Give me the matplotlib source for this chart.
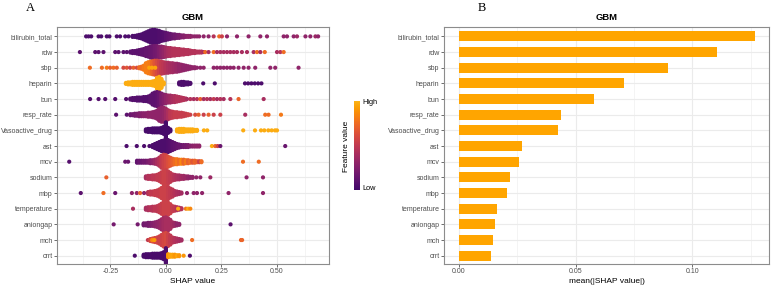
import numpy as np
import matplotlib
matplotlib.use("Agg")
import matplotlib.pyplot as plt
from matplotlib.colors import ListedColormap
from matplotlib.ticker import FixedLocator

features = ["bilirubin_total", "rdw", "sbp", "heparin", "bun", "resp_rate",
            "Vasoactive_drug", "ast", "mcv", "sodium", "mbp", "temperature",
            "aniongap", "mch", "crrt"]

mean_abs_shap = [0.1268, 0.1107, 0.0897, 0.0706, 0.0578, 0.0437, 0.0426,
                 0.0269, 0.0257, 0.0217, 0.0204, 0.0164, 0.0154, 0.0144, 0.0137]

# ---- beeswarm data: SHAP value (binned), number of points, feature value (0..1)
bilirubin_total_shap = [-0.359, -0.348, -0.336, -0.303, -0.291, -0.266, -0.254, -0.221, -0.206, -0.183, -0.168,
                        -0.15, -0.14, -0.13, -0.12, -0.11, -0.10, -0.09, -0.08, -0.07, -0.06, -0.05, -0.04, -0.03, -0.02, -0.01,
                        0.00, 0.01, 0.02, 0.03, 0.04, 0.05, 0.06, 0.07, 0.08, 0.09, 0.10, 0.11, 0.12, 0.13, 0.14, 0.15,
                        0.17, 0.192, 0.215, 0.24, 0.252, 0.275, 0.32, 0.372, 0.425, 0.455, 0.53, 0.545, 0.575, 0.59,
                        0.628, 0.65, 0.673, 0.685]
bilirubin_total_n = [1, 1, 1, 1, 1, 1, 1, 1, 1, 1, 1,
                     2, 2, 3, 4, 5, 7, 9, 11, 13, 14, 14, 13, 12, 10, 9,
                     8, 7, 6, 5, 5, 4, 4, 3, 3, 2, 2, 2, 1, 1, 1, 1,
                     1, 1, 1, 1, 1, 1, 1, 1, 1, 1, 1, 1, 1, 1,
                     1, 1, 1, 1]
bilirubin_total_fv = [0.05, 0.05, 0.05, 0.05, 0.05, 0.05, 0.05, 0.05, 0.05, 0.05, 0.05,
                      0.05, 0.05, 0.05, 0.05, 0.05, 0.05, 0.05, 0.05, 0.05, 0.05, 0.05, 0.05, 0.06, 0.07, 0.08,
                      0.10, 0.12, 0.14, 0.16, 0.18, 0.20, 0.22, 0.24, 0.26, 0.28, 0.30, 0.30, 0.30, 0.30, 0.30, 0.30,
                      0.30, 0.30, 0.45, 0.75, 0.55, 0.30, 0.30, 0.30, 0.30, 0.30, 0.30, 0.30, 0.30, 0.35,
                      0.30, 0.30, 0.35, 0.30]

rdw_shap = [-0.387, -0.318, -0.303, -0.281, -0.228, -0.213, -0.191, -0.176,
            -0.16, -0.15, -0.14, -0.13, -0.12, -0.11, -0.10, -0.09, -0.08, -0.07, -0.06, -0.05, -0.04, -0.03, -0.02, -0.01,
            0.00, 0.01, 0.02, 0.03, 0.04, 0.05, 0.06, 0.07, 0.08, 0.09, 0.10, 0.11, 0.12, 0.13, 0.14, 0.15, 0.16,
            0.17, 0.177, 0.192, 0.215, 0.23, 0.245, 0.26, 0.275, 0.29, 0.305, 0.32, 0.342, 0.365, 0.395, 0.41,
            0.425, 0.445, 0.50, 0.515, 0.53]
rdw_n = [1, 1, 1, 1, 1, 1, 1, 1,
         2, 3, 3, 4, 5, 6, 7, 9, 10, 12, 13, 13, 13, 12, 12, 11,
         10, 9, 9, 8, 8, 7, 7, 6, 6, 5, 5, 4, 3, 3, 2, 2, 2,
         1, 1, 1, 1, 1, 1, 1, 1, 1, 1, 1, 1, 1, 1, 1,
         1, 1, 1, 1, 1]
rdw_fv = [0.10, 0.10, 0.10, 0.10, 0.10, 0.10, 0.10, 0.10,
          0.10, 0.10, 0.10, 0.10, 0.10, 0.12, 0.12, 0.14, 0.14, 0.15, 0.16, 0.18, 0.20, 0.24, 0.28, 0.32,
          0.36, 0.40, 0.42, 0.44, 0.45, 0.45, 0.45, 0.45, 0.45, 0.45, 0.45, 0.45, 0.45, 0.45, 0.45, 0.45, 0.45,
          0.40, 0.75, 0.40, 0.75, 0.40, 0.40, 0.40, 0.40, 0.40, 0.40, 0.40, 0.40, 0.40, 0.40, 0.75,
          0.40, 0.75, 0.40, 0.45, 0.75]

sbp_shap = [-0.342, -0.288, -0.266, -0.251, -0.236, -0.221, -0.191, -0.176, -0.161, -0.146, -0.131,
            -0.12, -0.11, -0.10, -0.09, -0.08, -0.07, -0.06, -0.05, -0.04, -0.03, -0.02, -0.01,
            0.00, 0.01, 0.02, 0.03, 0.04, 0.05, 0.06, 0.07, 0.08, 0.09, 0.10, 0.11, 0.12, 0.13,
            -0.075, -0.062, -0.048,
            0.14, 0.155, 0.17, 0.215, 0.23, 0.245, 0.26, 0.275, 0.29, 0.305, 0.327, 0.35, 0.372, 0.402,
            0.47, 0.492, 0.597]
sbp_n = [1, 1, 1, 1, 1, 1, 1, 1, 1, 1, 1,
         2, 3, 5, 10, 12, 13, 14, 15, 15, 14, 13, 12,
         11, 11, 10, 10, 9, 9, 8, 7, 6, 5, 4, 3, 2, 2,
         1, 1, 1,
         1, 1, 1, 1, 1, 1, 1, 1, 1, 1, 1, 1, 1, 1,
         1, 1, 1]
sbp_fv = [0.75, 0.75, 0.80, 0.70, 0.75, 0.70, 0.60, 0.65, 0.55, 0.70, 0.60,
          0.75, 0.75, 0.80, 0.82, 0.82, 0.80, 0.72, 0.65, 0.60, 0.55, 0.50, 0.48,
          0.45, 0.42, 0.40, 0.38, 0.36, 0.34, 0.32, 0.32, 0.30, 0.30, 0.30, 0.30, 0.30, 0.30,
          0.95, 0.95, 0.95,
          0.30, 0.30, 0.30, 0.30, 0.30, 0.30, 0.30, 0.30, 0.30, 0.30, 0.30, 0.30, 0.30, 0.30,
          0.30, 0.30, 0.30]

heparin_shap = [-0.18, -0.17, -0.16, -0.15, -0.14, -0.13, -0.12, -0.11, -0.10, -0.09, -0.08, -0.07,
                -0.06, -0.05, -0.04, -0.03, -0.02, -0.01,
                0.06, 0.07, 0.08, 0.09, 0.10, 0.11,
                0.168, 0.22, 0.356, 0.37, 0.385, 0.40, 0.415, 0.43]
heparin_n = [2, 3, 3, 4, 4, 4, 4, 4, 4, 4, 4, 4,
             5, 6, 12, 14, 10, 3,
             3, 4, 4, 3, 3, 2,
             1, 1, 1, 1, 1, 1, 1, 1]
heparin_fv = [0.97, 0.97, 0.97, 0.97, 0.97, 0.97, 0.97, 0.97, 0.97, 0.97, 0.97, 0.97,
              0.97, 0.97, 0.97, 0.97, 0.97, 0.97,
              0.05, 0.05, 0.05, 0.05, 0.05, 0.05,
              0.05, 0.05, 0.05, 0.05, 0.05, 0.05, 0.05, 0.05]

bun_shap = [-0.341, -0.303, -0.273, -0.228, -0.179,
            -0.16, -0.15, -0.14, -0.13, -0.12, -0.11, -0.10, -0.09, -0.08,
            -0.07, -0.06, -0.05, -0.04, -0.03, -0.02, -0.01, 0.00, 0.01, 0.02, 0.03, 0.04, 0.05, 0.06, 0.07, 0.08, 0.09,
            0.095, 0.11, 0.125, 0.14, 0.155, 0.17, 0.185, 0.20, 0.215, 0.23, 0.245, 0.26, 0.29, 0.327, 0.44]
bun_n = [1, 1, 1, 1, 1,
         2, 3, 3, 4, 4, 4, 5, 5, 6,
         8, 12, 14, 15, 14, 12, 10, 9, 8, 8, 7, 7, 6, 5, 4, 3, 2,
         1, 1, 1, 1, 1, 1, 1, 1, 1, 1, 1, 1, 1, 1, 1]
bun_fv = [0.08, 0.08, 0.08, 0.08, 0.08,
          0.08, 0.08, 0.08, 0.08, 0.08, 0.08, 0.08, 0.08, 0.08,
          0.10, 0.10, 0.10, 0.12, 0.15, 0.22, 0.26, 0.30, 0.33, 0.36, 0.40, 0.42, 0.44, 0.44, 0.45, 0.45, 0.45,
          0.40, 0.45, 0.40, 0.45, 0.70, 0.40, 0.45, 0.40, 0.50, 0.40, 0.45, 0.40, 0.45, 0.72, 0.40]

resp_rate_shap = [-0.224, -0.176,
                  -0.16, -0.15, -0.14, -0.13, -0.12, -0.11, -0.10, -0.09, -0.08, -0.07, -0.06, -0.05, -0.04,
                  -0.03, -0.02, -0.01, 0.00, 0.01,
                  0.02, 0.03, 0.04, 0.05, 0.06, 0.07, 0.08, 0.09, 0.10,
                  0.11, 0.132, 0.147, 0.17, 0.192, 0.215, 0.245, 0.357, 0.447, 0.462, 0.518]
resp_rate_n = [1, 1,
               2, 2, 3, 3, 4, 4, 4, 4, 5, 5, 6, 7, 9,
               13, 15, 15, 13, 10,
               8, 7, 6, 6, 5, 5, 4, 3, 2,
               1, 1, 1, 1, 1, 1, 1, 1, 1, 1, 1]
resp_rate_fv = [0.10, 0.10,
                0.15, 0.18, 0.20, 0.22, 0.24, 0.26, 0.28, 0.28, 0.30, 0.30, 0.30, 0.30, 0.30,
                0.30, 0.30, 0.32, 0.36, 0.42,
                0.48, 0.50, 0.52, 0.52, 0.52, 0.52, 0.52, 0.52, 0.55,
                0.55, 0.60, 0.70, 0.55, 0.70, 0.55, 0.55, 0.40, 0.75, 0.75, 0.80]

Vasoactive_drug_shap = [-0.09, -0.08, -0.07, -0.06, -0.05, -0.04, -0.03, -0.02, -0.01, 0.00, 0.01, 0.02,
                        0.05, 0.06, 0.07, 0.08, 0.09, 0.10, 0.11, 0.12, 0.13, 0.14,
                        0.171, 0.186, 0.348, 0.401, 0.428, 0.443, 0.461, 0.476, 0.491, 0.50]
Vasoactive_drug_n = [3, 4, 4, 5, 5, 5, 5, 6, 8, 17, 6, 3,
                     3, 4, 4, 4, 3, 3, 3, 3, 2, 2,
                     1, 1, 1, 1, 1, 1, 1, 1, 1, 1]
Vasoactive_drug_fv = [0.02, 0.02, 0.02, 0.02, 0.02, 0.02, 0.02, 0.02, 0.02, 0.02, 0.02, 0.02,
                      0.97, 0.97, 0.97, 0.97, 0.97, 0.97, 0.97, 0.97, 0.97, 0.97,
                      0.97, 0.97, 0.97, 0.97, 0.97, 0.97, 0.97, 0.97, 0.97, 0.97]

ast_shap = [-0.177, -0.131, -0.098, -0.074,
            -0.06, -0.05, -0.04, -0.03, -0.02, -0.01, 0.00, 0.01, 0.02, 0.03, 0.04, 0.05, 0.06, 0.07, 0.08,
            0.09, 0.10, 0.11, 0.12, 0.13, 0.14, 0.15,
            0.207, 0.222, 0.233, 0.245, 0.537]
ast_n = [1, 1, 1, 1,
         3, 5, 7, 9, 11, 12, 13, 13, 11, 9, 7, 5, 4, 3, 3,
         3, 3, 2, 2, 2, 2, 2,
         1, 1, 1, 1, 1]
ast_fv = [0.05, 0.05, 0.05, 0.05,
          0.05, 0.05, 0.05, 0.05, 0.05, 0.05, 0.05, 0.06, 0.08, 0.10, 0.12, 0.14, 0.15, 0.16, 0.18,
          0.20, 0.22, 0.25, 0.28, 0.30, 0.30, 0.30,
          0.97, 0.75, 0.55, 0.15, 0.15]

mcv_shap = [-0.435, -0.183, -0.17,
            -0.13, -0.12, -0.11, -0.10, -0.09, -0.08, -0.07, -0.06, -0.05, -0.04,
            -0.03, -0.02, -0.01, 0.00, 0.01, 0.02,
            0.03, 0.04, 0.05, 0.06, 0.07, 0.08, 0.09, 0.10, 0.11, 0.12, 0.13, 0.14, 0.15, 0.16,
            0.347, 0.418]
mcv_n = [1, 1, 1,
         3, 3, 3, 3, 3, 3, 4, 4, 5, 6,
         9, 13, 15, 14, 11, 9,
         7, 6, 6, 5, 5, 5, 4, 4, 3, 3, 3, 2, 2, 2,
         1, 1]
mcv_fv = [0.08, 0.15, 0.15,
          0.12, 0.15, 0.15, 0.18, 0.18, 0.22, 0.25, 0.30, 0.35, 0.40,
          0.45, 0.50, 0.55, 0.58, 0.62, 0.66,
          0.70, 0.75, 0.80, 0.75, 0.85, 0.72, 0.80, 0.70, 0.75, 0.65, 0.72, 0.70, 0.55, 0.75,
          0.75, 0.75]

sodium_shap = [-0.268,
               -0.09, -0.08, -0.07, -0.06, -0.05, -0.04, -0.03,
               -0.02, -0.01, 0.00, 0.01, 0.02,
               0.03, 0.04, 0.05, 0.06, 0.07, 0.08, 0.09, 0.10, 0.11, 0.12,
               0.137, 0.155, 0.20, 0.363, 0.437]
sodium_n = [1,
            3, 4, 4, 5, 5, 6, 8,
            11, 14, 15, 13, 10,
            7, 6, 5, 5, 4, 4, 3, 3, 2, 2,
            1, 1, 1, 1, 1]
sodium_fv = [0.70,
             0.40, 0.45, 0.45, 0.48, 0.48, 0.50, 0.50,
             0.52, 0.55, 0.55, 0.52, 0.50,
             0.48, 0.45, 0.42, 0.40, 0.38, 0.36, 0.35, 0.32, 0.30, 0.30,
             0.30, 0.30, 0.35, 0.30, 0.30]

mbp_shap = [-0.383, -0.281, -0.228, -0.153, -0.131, -0.116, -0.098,
            -0.08, -0.07, -0.06, -0.05, -0.04, -0.03,
            -0.02, -0.01, 0.00, 0.01, 0.02, 0.03,
            0.04, 0.05, 0.06, 0.07,
            0.095, 0.125, 0.14, 0.163, 0.282, 0.437]
mbp_n = [1, 1, 1, 1, 1, 1, 1,
         3, 4, 4, 5, 6, 8,
         11, 14, 15, 13, 10, 8,
         5, 4, 3, 2,
         1, 1, 1, 1, 1, 1]
mbp_fv = [0.10, 0.75, 0.15, 0.30, 0.30, 0.70, 0.30,
          0.45, 0.50, 0.50, 0.52, 0.52, 0.52,
          0.55, 0.55, 0.55, 0.52, 0.50, 0.48,
          0.45, 0.42, 0.40, 0.38,
          0.30, 0.30, 0.30, 0.30, 0.30, 0.30]

temperature_shap = [-0.148,
                    -0.09, -0.08, -0.07, -0.06, -0.05, -0.04, -0.03,
                    -0.02, -0.01, 0.00, 0.01, 0.02,
                    0.03, 0.04, 0.05, 0.06, 0.07,
                    0.055, 0.09, 0.10, 0.11]
temperature_n = [1,
                 3, 4, 4, 5, 5, 6, 8,
                 11, 14, 15, 13, 10,
                 6, 5, 4, 3, 2,
                 1, 1, 1, 1]
temperature_fv = [0.40,
                  0.40, 0.42, 0.45, 0.45, 0.48, 0.48, 0.50,
                  0.52, 0.55, 0.55, 0.55, 0.55,
                  0.52, 0.50, 0.45, 0.42, 0.45,
                  0.97, 0.80, 0.97, 0.85]

aniongap_shap = [-0.235, -0.127,
                 -0.10, -0.09, -0.08, -0.07, -0.06, -0.05, -0.04, -0.03,
                 -0.02, -0.01, 0.00, 0.01, 0.02,
                 0.03, 0.04, 0.05, 0.06,
                 0.291]
aniongap_n = [1, 1,
              3, 3, 4, 4, 4, 5, 6, 8,
              11, 14, 15, 13, 10,
              5, 4, 3, 2,
              1]
aniongap_fv = [0.20, 0.20,
               0.18, 0.20, 0.20, 0.22, 0.25, 0.28, 0.30, 0.32,
               0.35, 0.38, 0.40, 0.40, 0.40,
               0.38, 0.35, 0.30, 0.30,
               0.10]

mch_shap = [-0.081,
            -0.07, -0.06, -0.05, -0.04, -0.03,
            -0.02, -0.01, 0.00, 0.01, 0.02,
            0.03, 0.04, 0.05, 0.06, 0.07,
            -0.062, -0.052, 0.118, 0.338, 0.343]
mch_n = [1,
         3, 4, 5, 6, 8,
         11, 14, 15, 13, 10,
         6, 5, 4, 3, 2,
         1, 1, 1, 1, 1]
mch_fv = [0.50,
          0.60, 0.62, 0.60, 0.58, 0.55,
          0.55, 0.58, 0.60, 0.55, 0.50,
          0.48, 0.45, 0.42, 0.40, 0.38,
          0.85, 0.92, 0.75, 0.72, 0.72]

crrt_shap = [-0.14,
             -0.10, -0.09, -0.08, -0.07, -0.06, -0.05, -0.04, -0.03, -0.02, -0.01,
             0.00,
             0.01, 0.02, 0.03, 0.04, 0.05, 0.06,
             0.08, 0.108]
crrt_n = [1,
          3, 4, 4, 4, 5, 5, 5, 5, 6, 8,
          16,
          4, 3, 3, 3, 2, 2,
          1, 1]
crrt_fv = [0.05,
           0.03, 0.03, 0.03, 0.03, 0.03, 0.03, 0.03, 0.03, 0.03, 0.03,
           0.05,
           0.90, 0.95, 0.95, 0.90, 0.95, 0.90,
           0.90, 0.05]

swarm = [
    (bilirubin_total_shap, bilirubin_total_n, bilirubin_total_fv),
    (rdw_shap, rdw_n, rdw_fv),
    (sbp_shap, sbp_n, sbp_fv),
    (heparin_shap, heparin_n, heparin_fv),
    (bun_shap, bun_n, bun_fv),
    (resp_rate_shap, resp_rate_n, resp_rate_fv),
    (Vasoactive_drug_shap, Vasoactive_drug_n, Vasoactive_drug_fv),
    (ast_shap, ast_n, ast_fv),
    (mcv_shap, mcv_n, mcv_fv),
    (sodium_shap, sodium_n, sodium_fv),
    (mbp_shap, mbp_n, mbp_fv),
    (temperature_shap, temperature_n, temperature_fv),
    (aniongap_shap, aniongap_n, aniongap_fv),
    (mch_shap, mch_n, mch_fv),
    (crrt_shap, crrt_n, crrt_fv),
]

# ---------------- styling ----------------
FONT = "Liberation Sans"
TICK_C = "#4D4D4D"
BORDER_C = "#8C8C8C"
GRID_C = "#EBEBEB"
plt.rcParams["font.family"] = [FONT, "DejaVu Sans"]

base = plt.get_cmap("inferno")
cmap = ListedColormap(base(np.linspace(0.2, 0.83, 256)))

W, H = 771, 287
fig = plt.figure(figsize=(W / 100, H / 100), dpi=100)

def px_axes(x0, y0, x1, y1):
    return fig.add_axes([x0 / W, 1 - y1 / H, (x1 - x0) / W, (y1 - y0) / H])

ax1 = px_axes(57, 27, 329, 264)
ax2 = px_axes(444, 27, 769, 264)
cax = px_axes(354, 101, 360, 190)

nrow = len(features)
ypos = np.arange(nrow)

def style_axes(ax, major, minor, labels, xlim):
    ax.set_xlim(*xlim)
    ax.set_ylim(nrow - 1 + 0.53, -0.6)
    ax.set_yticks(ypos)
    ax.set_yticklabels(features)
    ax.set_xticks(major)
    ax.set_xticklabels(labels)
    ax.xaxis.set_minor_locator(FixedLocator(minor))
    for v in major:
        ax.axvline(v, color=GRID_C, lw=0.8, zorder=0)
    for v in minor:
        ax.axvline(v, color="#F3F3F3", lw=0.6, zorder=0)
    for y in ypos:
        ax.axhline(y, color=GRID_C, lw=0.8, zorder=0)
    ax.tick_params(axis="both", which="major", labelsize=5.0, labelcolor=TICK_C,
                   color="#333333", length=2, width=0.5, pad=1.2)
    ax.tick_params(axis="x", which="minor", length=0)
    for s in ax.spines.values():
        s.set_color(BORDER_C)
        s.set_linewidth(0.8)
    ax.set_title("GBM", fontsize=6.8, fontweight="bold", pad=5)

# ---- left: beeswarm
style_axes(ax1, [-0.25, 0, 0.25, 0.5], [-0.375, -0.125, 0.125, 0.375, 0.625],
           ["-0.25", "0.00", "0.25", "0.50"], (-0.49, 0.734))
ax1.axvline(0, color="#C4C4C4", lw=1.5, zorder=1)

dy = 1.0 / 15.66  # about one pixel in row units
for i, (sv, nv, fv) in enumerate(swarm):
    xs, ys, cs = [], [], []
    for x, n, c in zip(sv, nv, fv):
        offs = (np.arange(n) - (n - 1) / 2.0) * dy
        xs.extend([x] * n)
        ys.extend(list(i + offs))
        cs.extend([c] * n)
    ax1.scatter(xs, ys, c=cs, cmap=cmap, vmin=0, vmax=1, s=9, linewidths=0, zorder=3)

ax1.set_xlabel("SHAP value", fontsize=6.0, labelpad=2)

# colour bar
grad = np.linspace(0, 1, 256).reshape(-1, 1)
cax.imshow(grad, aspect="auto", cmap=cmap, origin="lower", extent=[0, 1, 0, 1])
cax.set_xticks([])
cax.set_yticks([])
for s in cax.spines.values():
    s.set_visible(False)
fig.text(362 / W, 1 - 103 / H, "High", fontsize=5.3, color="black", ha="left", va="center")
fig.text(362 / W, 1 - 189 / H, "Low", fontsize=5.3, color="black", ha="left", va="center")
fig.text(347 / W, 1 - 146 / H, "Feature value", fontsize=6.0, rotation=90, ha="center", va="center")

# ---- right: bar chart
style_axes(ax2, [0, 0.05, 0.10], [0.025, 0.075, 0.125],
           ["0.00", "0.05", "0.10"], (-0.0064, 0.1328))
ax2.barh(ypos, mean_abs_shap, height=0.64, color="#FFA500", zorder=3)
ax2.set_xlabel("mean(|SHAP value|)", fontsize=6.0, labelpad=2)

# panel letters
fig.text(30 / W, 1 - 8 / H, "A", fontsize=9, family="Liberation Serif", ha="center", va="center")
fig.text(482 / W, 1 - 8 / H, "B", fontsize=9, family="Liberation Serif", ha="center", va="center")

fig.savefig("out.png", dpi=100)
